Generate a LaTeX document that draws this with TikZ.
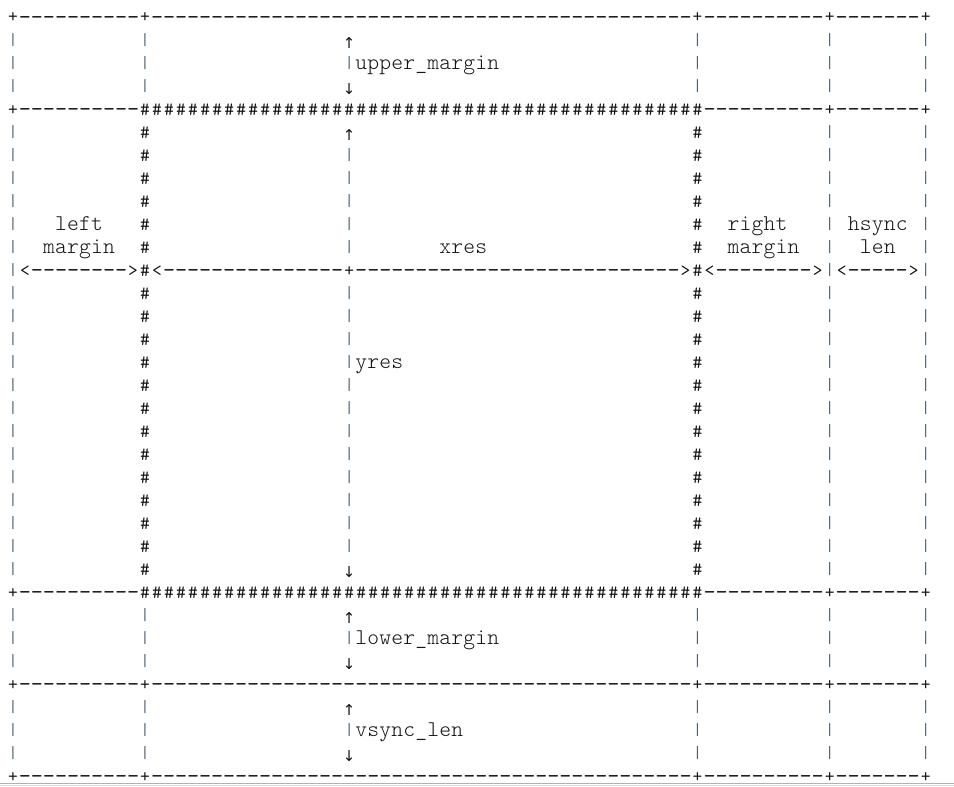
\documentclass[tikz,border=0pt]{standalone}
\usepackage{fontspec}
\newfontfamily\arrowfamily{DejaVu Sans}
\newfontfamily\barfamily{DejaVu Sans Mono}
\definecolor{barcol}{RGB}{72,88,104}
\definecolor{inkcol}{RGB}{20,20,20}
\newlength\cw \setlength\cw{12.01pt}
\newcount\glyphcount
\def\monoloop#1{\ifx#1\relax\else\makebox[\cw][c]{#1}\expandafter\monoloop\fi}
\newcommand\mono[1]{\monoloop#1\relax}
\newcommand\rowof[2]{\glyphcount=0\relax\loop\ifnum\glyphcount<#1\relax\makebox[\cw][c]{#2}\advance\glyphcount by 1\relax\repeat}
\newcommand\rulefont{\fontfamily{lmtt}\fontseries{m}\fontshape{n}\fontsize{19}{19}\selectfont}
\newcommand\labelfont{\fontfamily{lmtt}\fontseries{l}\fontshape{n}\fontsize{22.5}{22.5}\selectfont}
\newcommand\barfont{\barfamily\fontsize{13}{13}\selectfont}
\newcommand\arrfont{\arrowfamily\fontsize{15}{15}\selectfont}
\newcommand\hy{\raisebox{-1.1pt}{\fontsize{23.5}{23.5}\selectfont-}}
\newcommand\vbar{\makebox[\cw][c]{\raisebox{2.6pt}{|}}}
\newcommand\uparr{\makebox[\cw][c]{\raisebox{-2.5pt}{↑}}}
\newcommand\downarr{\makebox[\cw][c]{\raisebox{-2.5pt}{↓}}}
\begin{document}
\begin{tikzpicture}[x=1pt,y=-1pt,
  declare function={cx(\c)=6.995+12.01*\c; ry(\r)=23+23*\r;},
  glyph/.style={inner sep=0pt,outer sep=0pt,anchor=base west,text=inkcol},
  rulechars/.style={glyph,font=\rulefont},
  labeltext/.style={glyph,font=\labelfont},
  barchar/.style={glyph,font=\barfont,text=barcol},
  arrowchar/.style={glyph,font=\arrfont}]
\useasboundingbox[fill=white] (0,0) rectangle (954,787);
% horizontal borders
\foreach \r in {0,29,33}{
  \node[rulechars] (border-\r) at ({cx(0)},{ry(\r)})
    {\mono{+}\rowof{10}{\hy}\mono{+}\rowof{45}{\hy}\mono{+}\rowof{10}{\hy}\mono{+}\rowof{7}{\hy}\mono{+}};
}
\foreach \r in {4,25}{
  \node[rulechars] (border-\r) at ({cx(0)},{ry(\r)})
    {\mono{+}\rowof{10}{\hy}\rowof{47}{\#}\rowof{10}{\hy}\mono{+}\rowof{7}{\hy}\mono{+}};
}
% outer vertical bars
\foreach \r in {1,2,3,5,6,...,24,26,27,28,30,31,32}{
  \foreach \c in {0,68,76}{
    \node[barchar] (bar-\c-\r) at ({cx(\c)},{ry(\r)}) {\vbar};
  }
}
% inner columns 11 and 57
\foreach \r in {1,2,3,26,27,28,30,31,32}{
  \foreach \c in {11,57}{
    \node[barchar] (bar-\c-\r) at ({cx(\c)},{ry(\r)}) {\vbar};
  }
}
\foreach \r in {5,6,...,10,12,13,...,24}{
  \foreach \c in {11,57}{
    \node[rulechars] (hash-\c-\r) at ({cx(\c)},{ry(\r)}) {\mono{\#}};
  }
}
% column 28: vertical measures
\foreach \r in {2,6,7,...,10,12,13,...,23,27,31}{
  \node[barchar] (bar-28-\r) at ({cx(28)},{ry(\r)}) {\vbar};
}
\foreach \r in {1,5,26,30}{
  \node[arrowchar] (up-\r) at ({cx(28)},{ry(\r)}) {\uparr};
}
\foreach \r in {3,24,28,32}{
  \node[arrowchar] (down-\r) at ({cx(28)},{ry(\r)}) {\downarr};
}
% horizontal measure row
\node[rulechars] (hmeasure) at ({cx(1)},{ry(11)})
  {\mono{<}\rowof{8}{\hy}\mono{>}\mono{\#}\mono{<}\rowof{15}{\hy}\mono{+}\rowof{27}{\hy}\mono{>}\mono{\#}\mono{<}\rowof{8}{\hy}\mono{>}};
\node[rulechars] (hsyncmeasure) at ({cx(69)},{ry(11)}) {\mono{<}\rowof{5}{\hy}\mono{>}};
% labels
\node[labeltext] (upper) at ({cx(29)},{ry(2)}) {\mono{upper\_margin}};
\node[labeltext] (leftA) at ({cx(4)},{ry(9)}) {\mono{left}};
\node[labeltext] (leftB) at ({cx(3)},{ry(10)}) {\mono{margin}};
\node[labeltext] (rightA) at ({cx(60)},{ry(9)}) {\mono{right}};
\node[labeltext] (rightB) at ({cx(60)},{ry(10)}) {\mono{margin}};
\node[labeltext] (hsyncA) at ({cx(70)},{ry(9)}) {\mono{hsync}};
\node[labeltext] (hsyncB) at ({cx(71)},{ry(10)}) {\mono{len}};
\node[labeltext] (xres) at ({cx(36)},{ry(10)}) {\mono{xres}};
\node[labeltext] (yres) at ({cx(29)},{ry(15)}) {\mono{yres}};
\node[labeltext] (lower) at ({cx(29)},{ry(27)}) {\mono{lower\_margin}};
\node[labeltext] (vsync) at ({cx(29)},{ry(31)}) {\mono{vsync\_len}};
% window edge at the bottom
\coordinate (edgeL) at (0,783);
\coordinate (edgeR) at (954,783);
\coordinate (edgeL2) at (0,785.5);
\coordinate (edgeR2) at (954,785.5);
\draw[gray!60,line width=1pt] (edgeL) -- (edgeR);
\draw[gray!30,line width=1pt] (edgeL2) -- (edgeR2);
\end{tikzpicture}
\end{document}
